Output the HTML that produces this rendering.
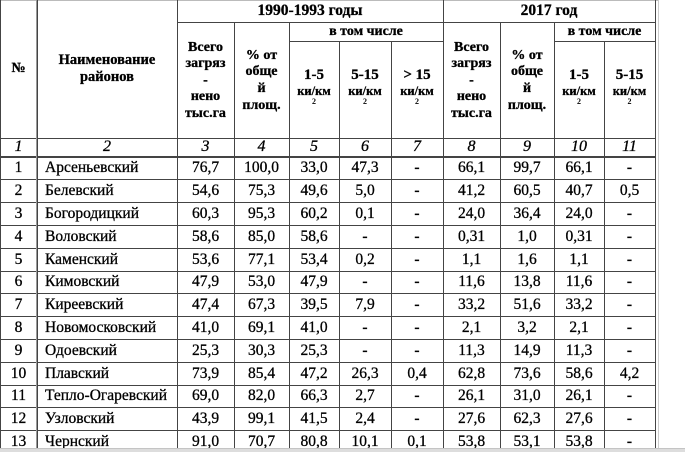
<!DOCTYPE html>
<html>
<head>
<meta charset="utf-8">
<style>
html,body{margin:0;padding:0;background:#fff;}
#c{position:relative;width:700px;height:452px;overflow:hidden;background:#fff;font-family:"Liberation Serif","Noto Serif CJK SC",serif;color:#000;-webkit-text-stroke:0.3px #000;}
.h{position:absolute;height:1px;background:#444;}
.v{position:absolute;width:1px;background:#444;}
.t{position:absolute;display:flex;align-items:center;justify-content:center;text-align:center;white-space:nowrap;}
.b{font-weight:bold;}
.hd{font-weight:bold;font-size:14px;line-height:16.6px;}
.n{font-style:italic;font-size:16px;}
.r{position:absolute;left:0;width:655px;height:23px;font-size:15.5px;}
.r div{position:absolute;top:0;height:100%;display:flex;align-items:center;justify-content:center;white-space:nowrap;}
.r .c1{left:0;width:37px;}
.r .c2{left:45px;width:130px;justify-content:flex-start;}
.r .c3{left:177px;width:57px;}
.r .c4{left:234px;width:55px;}
.r .c5{left:289px;width:50px;}
.r .c6{left:339px;width:52px;}
.r .c7{left:391px;width:52px;}
.r .c8{left:443px;width:57px;}
.r .c9{left:500px;width:54px;}
.r .c10{left:554px;width:50px;}
.r .c11{left:604px;width:51px;}
.u1{font-weight:bold;font-size:15px;line-height:16px;}
.u2{font-weight:bold;font-size:12.5px;line-height:13px;}
.u3{font-weight:bold;font-size:8px;line-height:8px;-webkit-text-stroke:0;}
</style>
</head>
<body>
<div id="c">
<!-- horizontal lines -->
<div class="h" style="left:0;top:0;width:658px;background:#bbb;"></div>
<div class="h" style="left:177px;top:22px;width:478px;"></div>
<div class="h" style="left:289px;top:41px;width:154px;"></div>
<div class="h" style="left:554px;top:41px;width:101px;"></div>
<div class="h" style="left:0;top:138px;width:655px;"></div>
<div class="h" style="left:0;top:156px;width:655px;height:2px;"></div>
<div class="h" style="left:0;top:179px;width:655px;"></div>
<div class="h" style="left:0;top:202px;width:655px;"></div>
<div class="h" style="left:0;top:225px;width:655px;"></div>
<div class="h" style="left:0;top:248px;width:655px;"></div>
<div class="h" style="left:0;top:271px;width:655px;"></div>
<div class="h" style="left:0;top:293px;width:655px;"></div>
<div class="h" style="left:0;top:316px;width:655px;"></div>
<div class="h" style="left:0;top:339px;width:655px;"></div>
<div class="h" style="left:0;top:362px;width:655px;"></div>
<div class="h" style="left:0;top:385px;width:655px;"></div>
<div class="h" style="left:0;top:407px;width:655px;"></div>
<div class="h" style="left:0;top:430px;width:655px;"></div>
<!-- vertical lines -->
<div class="v" style="left:0;top:0;height:452px;"></div>
<div class="v" style="left:36px;top:0;height:452px;background:#999;"></div>
<div class="v" style="left:37px;top:0;height:452px;"></div>
<div class="v" style="left:177px;top:0;height:452px;"></div>
<div class="v" style="left:234px;top:22px;height:430px;"></div>
<div class="v" style="left:289px;top:22px;height:430px;"></div>
<div class="v" style="left:339px;top:41px;height:411px;"></div>
<div class="v" style="left:391px;top:41px;height:411px;"></div>
<div class="v" style="left:443px;top:0;height:452px;"></div>
<div class="v" style="left:500px;top:22px;height:430px;"></div>
<div class="v" style="left:554px;top:22px;height:430px;"></div>
<div class="v" style="left:604px;top:41px;height:411px;"></div>
<div class="v" style="left:655px;top:0;height:452px;"></div>
<div class="v" style="left:658px;top:0;height:452px;background:#ccc;"></div>

<!-- header -->
<div class="t b" style="left:0;top:0;width:37px;height:138px;font-size:14px;">№</div>
<div class="t hd" style="left:37px;top:0;width:140px;height:138px;font-size:14.5px;">Наименование<br>районов</div>
<div class="t b" style="left:177px;top:0;width:266px;height:22px;font-size:15.5px;">1990-1993 годы</div>
<div class="t b" style="left:443px;top:0;width:212px;height:22px;font-size:15.5px;">2017 год</div>
<div class="t b" style="left:289px;top:22px;width:154px;height:19px;font-size:14px;">в том числе</div>
<div class="t b" style="left:554px;top:22px;width:101px;height:19px;font-size:14px;">в том числе</div>

<div class="t hd" style="left:177px;top:24px;width:57px;height:114px;">Всего<br>загряз<br>-<br>нено<br>тыс.га</div>
<div class="t hd" style="left:234px;top:24px;width:55px;height:114px;">% от<br>обще<br>й<br>площ.</div>
<div class="t hd" style="left:443px;top:24px;width:57px;height:114px;">Всего<br>загряз<br>-<br>нено<br>тыс.га</div>
<div class="t hd" style="left:500px;top:24px;width:54px;height:114px;">% от<br>обще<br>й<br>площ.</div>

<!-- unit headers -->
<div class="t u1" style="left:289px;top:67px;width:50px;height:16px;">1-5</div>
<div class="t u2" style="left:289px;top:84.5px;width:50px;height:13px;">ки/км</div>
<div class="t u3" style="left:289px;top:98px;width:50px;height:8px;">2</div>
<div class="t u1" style="left:339px;top:67px;width:52px;height:16px;">5-15</div>
<div class="t u2" style="left:339px;top:84.5px;width:52px;height:13px;">ки/км</div>
<div class="t u3" style="left:339px;top:98px;width:52px;height:8px;">2</div>
<div class="t u1" style="left:391px;top:67px;width:52px;height:16px;">&gt; 15</div>
<div class="t u2" style="left:391px;top:84.5px;width:52px;height:13px;">ки/км</div>
<div class="t u3" style="left:391px;top:98px;width:52px;height:8px;">2</div>
<div class="t u1" style="left:554px;top:67px;width:50px;height:16px;">1-5</div>
<div class="t u2" style="left:554px;top:84.5px;width:50px;height:13px;">ки/км</div>
<div class="t u3" style="left:554px;top:98px;width:50px;height:8px;">2</div>
<div class="t u1" style="left:604px;top:67px;width:51px;height:16px;">5-15</div>
<div class="t u2" style="left:604px;top:84.5px;width:51px;height:13px;">ки/км</div>
<div class="t u3" style="left:604px;top:98px;width:51px;height:8px;">2</div>

<!-- number row -->
<div class="t n" style="left:0;top:138px;width:37px;height:18px;">1</div>
<div class="t n" style="left:37px;top:138px;width:140px;height:18px;">2</div>
<div class="t n" style="left:177px;top:138px;width:57px;height:18px;">3</div>
<div class="t n" style="left:234px;top:138px;width:55px;height:18px;">4</div>
<div class="t n" style="left:289px;top:138px;width:50px;height:18px;">5</div>
<div class="t n" style="left:339px;top:138px;width:52px;height:18px;">6</div>
<div class="t n" style="left:391px;top:138px;width:52px;height:18px;">7</div>
<div class="t n" style="left:443px;top:138px;width:57px;height:18px;">8</div>
<div class="t n" style="left:500px;top:138px;width:54px;height:18px;">9</div>
<div class="t n" style="left:554px;top:138px;width:50px;height:18px;">10</div>
<div class="t n" style="left:604px;top:138px;width:51px;height:18px;">11</div>

<!-- data rows -->
<div class="r" style="top:157px;height:22px;"><div class="c1">1</div><div class="c2">Арсеньевский</div><div class="c3">76,7</div><div class="c4">100,0</div><div class="c5">33,0</div><div class="c6">47,3</div><div class="c7">-</div><div class="c8">66,1</div><div class="c9">99,7</div><div class="c10">66,1</div><div class="c11">-</div></div>
<div class="r" style="top:179px;"><div class="c1">2</div><div class="c2">Белевский</div><div class="c3">54,6</div><div class="c4">75,3</div><div class="c5">49,6</div><div class="c6">5,0</div><div class="c7">-</div><div class="c8">41,2</div><div class="c9">60,5</div><div class="c10">40,7</div><div class="c11">0,5</div></div>
<div class="r" style="top:202px;"><div class="c1">3</div><div class="c2">Богородицкий</div><div class="c3">60,3</div><div class="c4">95,3</div><div class="c5">60,2</div><div class="c6">0,1</div><div class="c7">-</div><div class="c8">24,0</div><div class="c9">36,4</div><div class="c10">24,0</div><div class="c11">-</div></div>
<div class="r" style="top:225px;"><div class="c1">4</div><div class="c2">Воловский</div><div class="c3">58,6</div><div class="c4">85,0</div><div class="c5">58,6</div><div class="c6">-</div><div class="c7">-</div><div class="c8">0,31</div><div class="c9">1,0</div><div class="c10">0,31</div><div class="c11">-</div></div>
<div class="r" style="top:248px;"><div class="c1">5</div><div class="c2">Каменский</div><div class="c3">53,6</div><div class="c4">77,1</div><div class="c5">53,4</div><div class="c6">0,2</div><div class="c7">-</div><div class="c8">1,1</div><div class="c9">1,6</div><div class="c10">1,1</div><div class="c11">-</div></div>
<div class="r" style="top:271px;height:22px;"><div class="c1">6</div><div class="c2">Кимовский</div><div class="c3">47,9</div><div class="c4">53,0</div><div class="c5">47,9</div><div class="c6">-</div><div class="c7">-</div><div class="c8">11,6</div><div class="c9">13,8</div><div class="c10">11,6</div><div class="c11">-</div></div>
<div class="r" style="top:293px;"><div class="c1">7</div><div class="c2">Киреевский</div><div class="c3">47,4</div><div class="c4">67,3</div><div class="c5">39,5</div><div class="c6">7,9</div><div class="c7">-</div><div class="c8">33,2</div><div class="c9">51,6</div><div class="c10">33,2</div><div class="c11">-</div></div>
<div class="r" style="top:316px;"><div class="c1">8</div><div class="c2">Новомосковский</div><div class="c3">41,0</div><div class="c4">69,1</div><div class="c5">41,0</div><div class="c6">-</div><div class="c7">-</div><div class="c8">2,1</div><div class="c9">3,2</div><div class="c10">2,1</div><div class="c11">-</div></div>
<div class="r" style="top:339px;"><div class="c1">9</div><div class="c2">Одоевский</div><div class="c3">25,3</div><div class="c4">30,3</div><div class="c5">25,3</div><div class="c6">-</div><div class="c7">-</div><div class="c8">11,3</div><div class="c9">14,9</div><div class="c10">11,3</div><div class="c11">-</div></div>
<div class="r" style="top:362px;"><div class="c1">10</div><div class="c2">Плавский</div><div class="c3">73,9</div><div class="c4">85,4</div><div class="c5">47,2</div><div class="c6">26,3</div><div class="c7">0,4</div><div class="c8">62,8</div><div class="c9">73,6</div><div class="c10">58,6</div><div class="c11">4,2</div></div>
<div class="r" style="top:385px;height:22px;"><div class="c1">11</div><div class="c2">Тепло-Огаревский</div><div class="c3">69,0</div><div class="c4">82,0</div><div class="c5">66,3</div><div class="c6">2,7</div><div class="c7">-</div><div class="c8">26,1</div><div class="c9">31,0</div><div class="c10">26,1</div><div class="c11">-</div></div>
<div class="r" style="top:407px;"><div class="c1">12</div><div class="c2">Узловский</div><div class="c3">43,9</div><div class="c4">99,1</div><div class="c5">41,5</div><div class="c6">2,4</div><div class="c7">-</div><div class="c8">27,6</div><div class="c9">62,3</div><div class="c10">27,6</div><div class="c11">-</div></div>
<div class="r" style="top:430px;"><div class="c1">13</div><div class="c2">Чернский</div><div class="c3">91,0</div><div class="c4">70,7</div><div class="c5">80,8</div><div class="c6">10,1</div><div class="c7">0,1</div><div class="c8">53,8</div><div class="c9">53,1</div><div class="c10">53,8</div><div class="c11">-</div></div>

<!-- bottom gray band -->
<div style="position:absolute;left:0;top:448px;width:685px;height:4px;background:#ddd;border-top:1px solid #c4c4c4;"></div>
</div>
</body>
</html>
